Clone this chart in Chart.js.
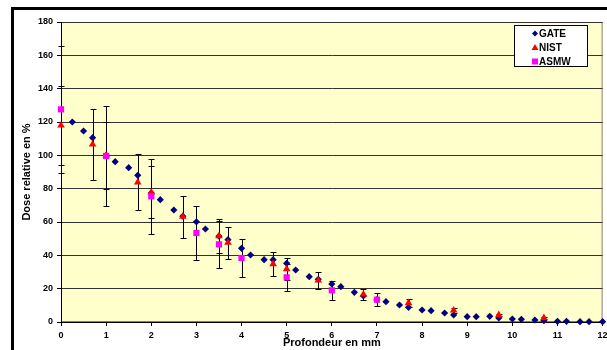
<!DOCTYPE html>
<html>
<head>
<meta charset="utf-8">
<script src="https://cdn.jsdelivr.net/npm/chart.js@4.4.1/dist/chart.umd.min.js"></script>
<style>
  html, body { margin: 0; padding: 0; background: #ffffff; }
  #wrap { width: 607px; height: 350px; }
</style>
</head>
<body>
<div id="wrap"><canvas id="c" width="607" height="350"></canvas></div>
<script>
// Depth-dose curves: relative dose (%) versus depth (mm)
const gateDepth = [0.25, 0.5, 0.7, 1.0, 1.2, 1.5, 1.7, 2.0, 2.2, 2.5, 2.7, 3.0,
                   3.2, 3.5, 3.7, 4.0, 4.2, 4.5, 4.7, 5.0, 5.2, 5.5, 5.7, 6.0,
                   6.2, 6.5, 6.7, 7.0, 7.2, 7.5, 7.7, 8.0, 8.2, 8.5, 8.7, 9.0,
                   9.2, 9.5, 9.7, 10.0, 10.2, 10.5, 10.7, 11.0, 11.2, 11.5, 11.7, 12.0];
const gateDose  = [120.0, 114.6, 110.6, 100.0, 96.2, 92.6, 88.0, 77.4, 73.4, 67.2, 63.5, 60.1,
                   55.8, 51.5, 49.4, 44.2, 40.2, 37.4, 37.4, 35.2, 31.2, 27.2, 25.6, 22.8,
                   21.2, 17.8, 15.6, 13.4, 12.2, 10.2, 8.8, 7.2, 6.8, 5.4, 4.2, 3.2,
                   3.2, 3.4, 2.4, 1.8, 1.6, 1.2, 0.8, 0.4, 0.4, 0.2, 0.2, 0.2];

const nistDepth = [0, 0.7, 1.0, 1.7, 2.0, 2.7, 3.5, 3.7, 4.7, 5.0, 5.7, 6.7, 7.7, 8.7, 9.7, 10.7];
const nistDose  = [118.0, 106.6, 100.0, 83.8, 77.8, 63.2, 51.6, 47.6, 34.8, 31.8, 25.0, 16.6, 11.4, 7.0, 4.2, 2.4];
const nistErr   = [23.6, 21.3, 20.0, 16.8, 15.6, 12.6, 10.3, 9.5, 7.0, 6.4, 5.0, 3.3, 2.3, 1.4, 0.8, 0.5];

const asmwDepth = [0, 1, 2, 3, 3.5, 4, 5, 6, 7];
const asmwDose  = [127.6, 99.6, 75.4, 53.4, 46.6, 38.4, 26.8, 19.0, 13.4];
const asmwErr   = [38.3, 29.9, 22.6, 16.0, 14.0, 11.5, 8.0, 5.7, 4.0];

const seriesNames = ['GATE', 'NIST', 'ASMW'];
const xTickValues = [0, 1, 2, 3, 4, 5, 6, 7, 8, 9, 10, 11, 12];
const yTickValues = [0, 20, 40, 60, 80, 100, 120, 140, 160, 180];

const FONT = '"Liberation Sans", Arial, sans-serif';

function toPoints(xs, ys, errs) {
  return xs.map((x, i) => ({ x: x, y: ys[i], err: errs ? errs[i] : null }));
}

// Outer frame, plot background and plot border
const framePlugin = {
  id: 'frame',
  beforeDraw(chart) {
    const { ctx, chartArea: a } = chart;
    ctx.save();
    ctx.fillStyle = '#ffffff';
    ctx.fillRect(0, 0, chart.width, chart.height);
    ctx.strokeStyle = '#000000';
    ctx.lineWidth = 3;
    ctx.strokeRect(12.5, 8.5, 700, 400);
    ctx.fillStyle = '#ffffcc';
    ctx.fillRect(a.left, a.top, a.right - a.left, a.bottom - a.top);
    ctx.strokeStyle = '#808080';
    ctx.lineWidth = 1;
    ctx.strokeRect(a.left + 0.5, a.top + 0.5, a.right - a.left - 1, a.bottom - a.top - 1);
    ctx.restore();
  }
};

// Vertical error bars with caps, placed through the chart's scales
const errorBarPlugin = {
  id: 'errorBars',
  beforeDatasetsDraw(chart) {
    const { ctx, scales: { x, y } } = chart;
    ctx.save();
    ctx.strokeStyle = '#000000';
    ctx.lineWidth = 1;
    chart.data.datasets.forEach(ds => {
      ds.data.forEach(p => {
        if (p.err == null) return;
        const px = Math.round(x.getPixelForValue(p.x)) + 0.5;
        const yTop = Math.round(y.getPixelForValue(p.y + p.err)) + 0.5;
        const yBot = Math.round(y.getPixelForValue(Math.max(0, p.y - p.err))) + 0.5;
        ctx.beginPath();
        ctx.moveTo(px, yTop); ctx.lineTo(px, yBot);
        ctx.moveTo(px - 3, yTop); ctx.lineTo(px + 3, yTop);
        ctx.moveTo(px - 3, yBot); ctx.lineTo(px + 3, yBot);
        ctx.stroke();
      });
    });
    ctx.restore();
  }
};

// Boxed legend inside the plot area, top right
const boxLegendPlugin = {
  id: 'boxLegend',
  afterDraw(chart) {
    const { ctx } = chart;
    const bx = 514, by = 25, bw = 74, bh = 42;
    ctx.save();
    ctx.fillStyle = '#ffffff';
    ctx.fillRect(bx, by, bw, bh);
    ctx.strokeStyle = '#000000';
    ctx.lineWidth = 1;
    ctx.strokeRect(bx + 0.5, by + 0.5, bw - 1, bh - 1);
    chart.data.datasets.forEach((ds, i) => {
      const cy = 33.5 + i * 14;
      const cx = 535;
      ctx.fillStyle = ds.backgroundColor;
      ctx.beginPath();
      if (ds.pointStyle === 'rectRot') {
        ctx.moveTo(cx, cy - 3); ctx.lineTo(cx + 3, cy); ctx.lineTo(cx, cy + 3); ctx.lineTo(cx - 3, cy);
      } else if (ds.pointStyle === 'triangle') {
        ctx.moveTo(cx, cy - 3.5); ctx.lineTo(cx + 3.5, cy + 2.5); ctx.lineTo(cx - 3.5, cy + 2.5);
      } else {
        ctx.rect(cx - 3, cy - 3, 6, 6);
      }
      ctx.closePath();
      ctx.fill();
      ctx.fillStyle = '#000000';
      ctx.font = 'bold 10px ' + FONT;
      ctx.textBaseline = 'middle';
      ctx.textAlign = 'left';
      ctx.fillText(ds.label, 539, cy + 0.5);
    });
    ctx.restore();
  }
};

new Chart(document.getElementById('c'), {
  type: 'scatter',
  data: {
    datasets: [
      { label: seriesNames[0], data: toPoints(gateDepth, gateDose), pointStyle: 'rectRot', clip: false,
        backgroundColor: '#000080', borderColor: '#000080', borderWidth: 0, pointRadius: 3.6, order: 3 },
      { label: seriesNames[1], data: toPoints(nistDepth, nistDose, nistErr), pointStyle: 'triangle', clip: false,
        backgroundColor: '#ff0000', borderColor: '#ff0000', borderWidth: 0, pointRadius: 4.4, order: 2 },
      { label: seriesNames[2], data: toPoints(asmwDepth, asmwDose, asmwErr), pointStyle: 'rect', clip: false,
        backgroundColor: '#ff00ff', borderColor: '#ff00ff', borderWidth: 0, pointRadius: 4.4, order: 1 }
    ]
  },
  options: {
    responsive: false,
    animation: false,
    devicePixelRatio: 1,
    layout: { padding: { top: 22, right: 4, bottom: 0, left: 0 } },
    plugins: { legend: { display: false }, tooltip: { enabled: false } },
    scales: {
      x: {
        type: 'linear', min: 0, max: 12,
        afterBuildTicks: s => { s.ticks = xTickValues.map(v => ({ value: v })); },
        afterFit: s => { s.height = 28; s.paddingLeft = 0; s.paddingRight = 0; },
        ticks: { color: '#000', font: { family: FONT, size: 9, weight: 'bold' }, padding: 4, maxRotation: 0 },
        grid: { drawOnChartArea: false, tickLength: 4, tickColor: '#000', color: '#000' },
        border: { color: '#000', width: 1 },
        title: { display: true, text: 'Profondeur en mm', color: '#000',
                 font: { family: FONT, size: 11, weight: 'bold' }, padding: { top: 0, bottom: 0 } }
      },
      y: {
        type: 'linear', min: 0, max: 180,
        afterBuildTicks: s => { s.ticks = yTickValues.map(v => ({ value: v })); },
        afterFit: s => { s.width = 61; },
        ticks: { color: '#000', font: { family: FONT, size: 9, weight: 'bold' }, padding: 4 },
        grid: { color: '#333333', tickLength: 4, tickColor: '#000' },
        border: { color: '#000', width: 1 },
        title: { display: true, text: 'Dose relative en %', color: '#000',
                 font: { family: FONT, size: 11, weight: 'bold' }, padding: { top: 20, bottom: 0 } }
      }
    }
  },
  plugins: [framePlugin, errorBarPlugin, boxLegendPlugin]
});
</script>
</body>
</html>
